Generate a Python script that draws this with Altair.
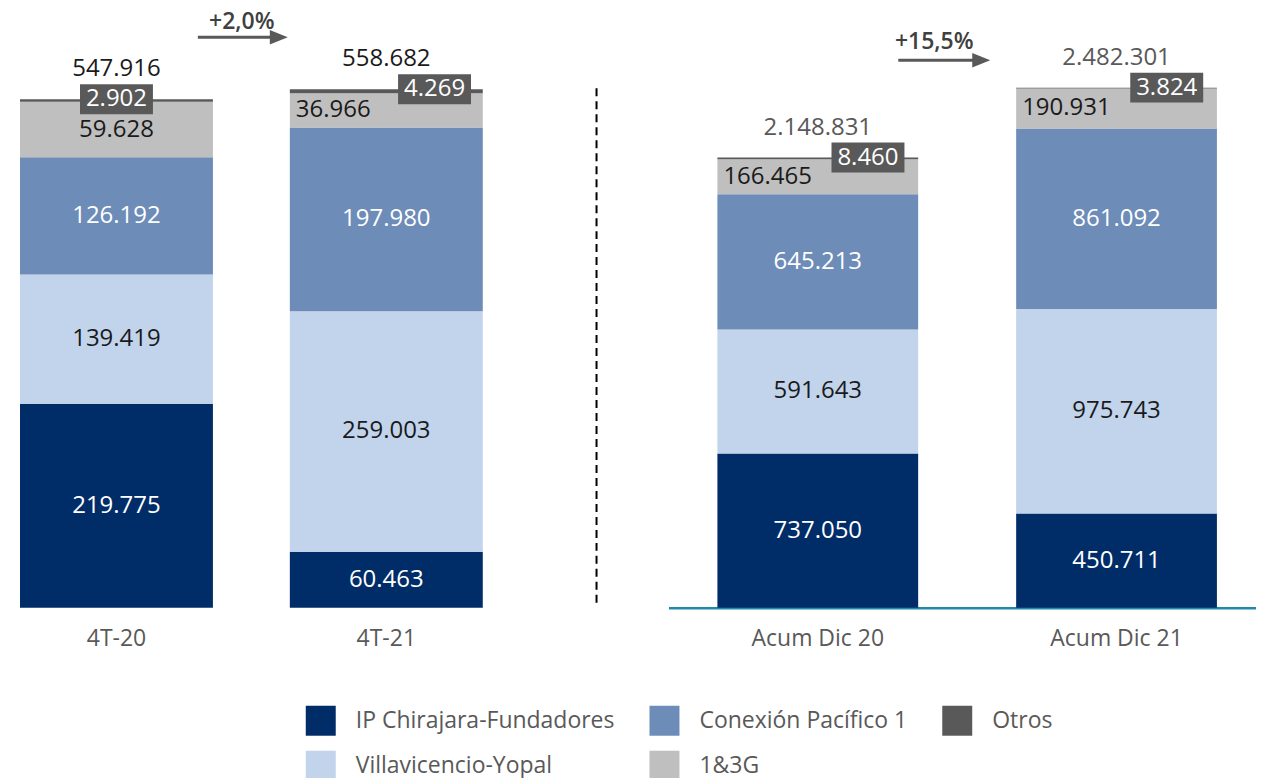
import altair as alt
import pandas as pd

# ---------------- data ----------------
series = ["IP Chirajara-Fundadores", "Villavicencio-Yopal", "Conexión Pacífico 1", "1&3G", "Otros"]
periods_q = ["4T-20", "4T-21"]
periods_a = ["Acum Dic 20", "Acum Dic 21"]
vals_4t20 = [219775, 139419, 126192, 59628, 2902]
vals_4t21 = [60463, 259003, 197980, 36966, 4269]
vals_ac20 = [737050, 591643, 645213, 166465, 8460]
vals_ac21 = [450711, 975743, 861092, 190931, 3824]
totals_q = [547916, 558682]
totals_a = [2148831, 2482301]
growth_q = "+2,0%"
growth_a = "+15,5%"

# ---------------- styling ----------------
FONT = "Open Sans"
legend_order = ["IP Chirajara-Fundadores", "Villavicencio-Yopal", "Conexión Pacífico 1", "1&3G", "Otros"]
legend_colors = ["#002D68", "#C1D4EC", "#6D8CB8", "#BFBFBF", "#595959"]
label_colors = {"IP Chirajara-Fundadores": "#FFFFFF", "Villavicencio-Yopal": "#1A1A1A",
                "Conexión Pacífico 1": "#FFFFFF"}


def fmt(v):
    return f"{v:,}".replace(",", ".")


def build(periods, vals_list, totals):
    rows = []
    for p, vals, tot in zip(periods, vals_list, totals):
        cum = 0
        for i, (s, v) in enumerate(zip(series, vals)):
            rows.append(dict(period=p, series=s, value=v, idx=i, start=cum, end=cum + v,
                             mid=cum + v / 2, label=fmt(v), total=tot, tlabel=fmt(tot),
                             lblcolor=label_colors.get(s, "#1A1A1A")))
            cum += v
    return pd.DataFrame(rows)


df_q = build(periods_q, [vals_4t20, vals_4t21], totals_q)
df_a = build(periods_a, [vals_ac20, vals_ac21], totals_a)

color_scale = alt.Scale(domain=legend_order, range=legend_colors)
legend = alt.Legend(orient="none", legendX=298, legendY=698, columns=3, title=None,
                    symbolType="square", symbolSize=900, symbolStrokeWidth=0,
                    labelFont=FONT, labelFontSize=23, labelColor="#595959", labelOffset=20,
                    columnPadding=34, rowPadding=15, labelLimit=400)

box_shape = "M-1,-0.41H1V0.41H-1Z"


def panel(df, periods, width, pi, po, align, ymax, total_color, growth, gx, gy,
          ax1, ax2, ahead, ay, domain, dashed):
    xs = alt.Scale(domain=periods, paddingInner=pi, paddingOuter=po, align=align)
    axis = alt.Axis(title=None, ticks=False, domain=domain, domainColor="#1F8AA8", domainWidth=2.5,
                    labelFont=FONT, labelFontSize=23, labelColor="#595959", labelAngle=0,
                    labelPadding=20, grid=False)
    ys = alt.Scale(domain=[0, ymax], nice=False, zero=True)

    def X(bp=0.5):
        return alt.X("period:N", sort=periods, scale=xs, axis=axis, bandPosition=bp)

    base = alt.Chart(df)
    bars = base.mark_bar().encode(
        x=alt.X("period:N", sort=periods, scale=xs, axis=axis),
        y=alt.Y("value:Q", stack="zero", scale=ys, axis=None),
        color=alt.Color("series:N", scale=color_scale, legend=legend),
        order=alt.Order("idx:Q", sort="ascending"),
    )
    main = base.transform_filter(alt.FieldOneOfPredicate(field="series", oneOf=series[:3])).mark_text(
        font=FONT, fontSize=24, baseline="middle").encode(
        x=X(), y=alt.Y("mid:Q", scale=ys, axis=None), text="label:N",
        color=alt.Color("lblcolor:N", scale=None))

    g13 = base.transform_filter(alt.datum.series == "1&3G")
    first = periods[0]
    layers = [bars, main]
    if first == "4T-20":
        g_center = g13.transform_filter(alt.datum.period == first).mark_text(
            font=FONT, fontSize=24, color="#1A1A1A", baseline="middle").encode(
            x=X(), y=alt.Y("mid:Q", scale=ys, axis=None), text="label:N")
        g_left = g13.transform_filter(alt.datum.period != first)
        layers.append(g_center)
    else:
        g_left = g13
    layers.append(g_left.mark_text(font=FONT, fontSize=24, color="#1A1A1A", baseline="middle",
                                   align="left", dx=6).encode(
        x=X(0), y=alt.Y("mid:Q", scale=ys, axis=None), text="label:N"))

    otros = base.transform_filter(alt.datum.series == "Otros")
    def box(src, bp):
        b = src.mark_point(shape=box_shape, size=73 * 73, filled=True, color="#595959",
                           opacity=1, strokeWidth=0).encode(
            x=X(bp), y=alt.Y("end:Q", scale=ys, axis=None))
        t = src.mark_text(font=FONT, fontSize=24, color="#FFFFFF", baseline="middle").encode(
            x=X(bp), y=alt.Y("end:Q", scale=ys, axis=None), text="label:N")
        return [b, t]
    if first == "4T-20":
        layers += box(otros.transform_filter(alt.datum.period == first), 0.5)
        layers += box(otros.transform_filter(alt.datum.period != first), 0.75)
    else:
        layers += box(otros, 0.75)

    layers.append(otros.mark_text(font=FONT, fontSize=24, color=total_color, baseline="middle",
                                  dy=-30).encode(
        x=X(), y=alt.Y("total:Q", scale=ys, axis=None), text="tlabel:N"))

    gdf = pd.DataFrame({"g": [growth]})
    gb = alt.Chart(gdf)
    layers.append(gb.mark_text(font=FONT, fontSize=23, fontWeight=600, color="#404040",
                               baseline="middle").encode(
        x=alt.value(gx), y=alt.value(gy), text="g:N"))
    layers.append(gb.mark_rule(color="#595959", strokeWidth=3).encode(
        x=alt.value(ax1), x2=alt.value(ax2), y=alt.value(ay)))
    layers.append(gb.mark_point(shape="M-1,-0.8L1,0L-1,0.8Z", size=18 * 18, filled=True,
                                color="#595959", opacity=1, strokeWidth=0).encode(
        x=alt.value(ahead), y=alt.value(ay)))
    if dashed:
        layers.append(gb.mark_rule(color="#000000", strokeWidth=2, strokeDash=[8, 5]).encode(
            x=alt.value(width), y=alt.value(80), y2=alt.value(600)))

    return alt.layer(*layers).properties(width=width, height=600)


left = panel(df_q, periods_q, 589, 0.285, 0.233, 0.0954, 645800, "#1A1A1A", growth_q,
             234, 14, 190, 264, 271, 29, False, True)
right = panel(df_a, periods_a, 588, 0.328, 0.1473, 0.556, 2861000, "#595959", growth_a,
              266, 34, 230, 305, 313, 52, True, False)

chart = alt.hconcat(left, right, spacing=71).properties(padding=0).configure_view(
    stroke=None).configure_concat(spacing=71)

chart.save("out.html", embed_options={"renderer": "svg", "actions": False})
